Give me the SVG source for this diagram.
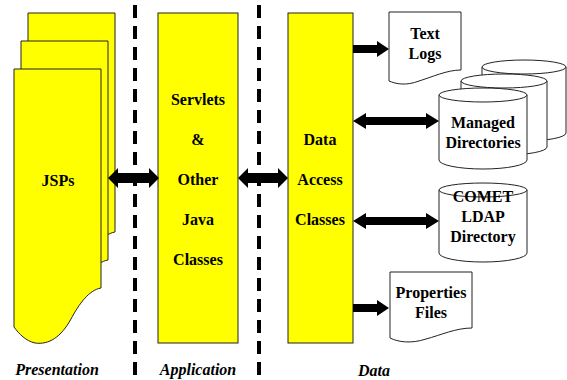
<svg xmlns="http://www.w3.org/2000/svg" width="567" height="380" viewBox="0 0 567 380">
<style>
.y{fill:#ffff00;stroke:#222;stroke-width:1}
.w{fill:#fff;stroke:#222;stroke-width:1}
.t{font-weight:bold;font-size:16px;fill:#000;text-anchor:middle}
.l{font-weight:bold;font-style:italic;font-size:16px;fill:#000;text-anchor:middle}
.d{stroke:#000;stroke-width:4;stroke-dasharray:13 8;fill:none}
.a{fill:#000;stroke:none}
</style>
<defs>
<path id="page" d="M0,0 H87 V219 C75,221 65,235 57,250 C47,268 35,276 21,274 C12,272 5,265 0,258 Z"/>
</defs>
<rect width="567" height="380" fill="#fff"/>
<g font-family="'Liberation Serif', 'DejaVu Serif', serif">
<g id="jsps">
<use href="#page" x="28" y="13" class="y"/>
<use href="#page" x="21" y="41" class="y"/>
<use href="#page" x="14" y="69" class="y"/>
<text class="t" x="58" y="186">JSPs</text>
</g>
<g id="servlets">
<rect class="y" x="158" y="13" width="80" height="330"/>
<text class="t" x="198" y="105">Servlets</text>
<text class="t" x="198" y="145">&amp;</text>
<text class="t" x="198" y="185">Other</text>
<text class="t" x="198" y="225">Java</text>
<text class="t" x="198" y="265">Classes</text>
</g>
<g id="dataaccess">
<rect class="y" x="288" y="13" width="65" height="330"/>
<text class="t" x="320" y="145">Data</text>
<text class="t" x="320" y="185">Access</text>
<text class="t" x="320" y="225">Classes</text>
</g>
<g id="textlogs">
<path class="w" d="M389,12 H461 V70 C447,70 432,77 419,81 C406,86 396,84 389,81 Z"/>
<text class="t" x="425" y="39">Text</text>
<text class="t" x="425" y="59">Logs</text>
</g>
<g id="managed">
<path class="w" d="M482,67 V133 A42,8 0 0 0 566,133 V67 A42,7 0 0 0 482,67 Z"/>
<path class="w" d="M482,67 A42,7 0 0 0 566,67"/>
<path class="w" d="M461,81 V147 A43,8 0 0 0 547,147 V81 A43,7 0 0 0 461,81 Z"/>
<path class="w" d="M461,81 A43,7 0 0 0 547,81"/>
<path class="w" d="M439,95 V160 A44,9 0 0 0 527,160 V95 A44,7 0 0 0 439,95 Z"/>
<path class="w" d="M439,95 A44,7 0 0 0 527,95"/>
<text class="t" x="483" y="128" font-size="17">Managed</text>
<text class="t" x="483" y="148" font-size="17">Directories</text>
</g>
<g id="comet">
<path class="w" d="M439,190 V253 A44,9 0 0 0 527,253 V190 A44,7 0 0 0 439,190 Z"/>
<path class="w" d="M439,190 A44,7 0 0 0 527,190"/>
<text class="t" x="483" y="202">COMET</text>
<text class="t" x="483" y="222">LDAP</text>
<text class="t" x="483" y="242">Directory</text>
</g>
<g id="properties">
<path class="w" d="M390,272 H472 V328 C456,328 441,335 426,339 C411,344 398,342 390,338 Z"/>
<text class="t" x="431" y="298">Properties</text>
<text class="t" x="431" y="318">Files</text>
</g>
<g id="connectors">
<polygon class="a" points="108,178 118,168 118,173 149,173 149,168 159,178 149,188 149,183 118,183 118,188"/>
<polygon class="a" points="238,178 248,168 248,173 278,173 278,168 288,178 278,188 278,183 248,183 248,188"/>
<polygon class="a" points="353,45 377,45 377,41 389,49 377,57 377,53 353,53"/>
<polygon class="a" points="353,121 366,113 366,117 426,117 426,113 439,121 426,129 426,125 366,125 366,129"/>
<polygon class="a" points="353,221 366,213 366,217 426,217 426,213 439,221 426,229 426,225 366,225 366,229"/>
<polygon class="a" points="353,304 377,304 377,300 389,308 377,316 377,312 353,312"/>
<line class="d" x1="135" y1="5" x2="135" y2="380"/>
<line class="d" x1="259" y1="5" x2="259" y2="380"/>
</g>
<g id="labels">
<text class="l" x="57" y="375">Presentation</text>
<text class="l" x="198" y="375">Application</text>
<text class="l" x="374" y="376">Data</text>
</g>
</g>
</svg>
